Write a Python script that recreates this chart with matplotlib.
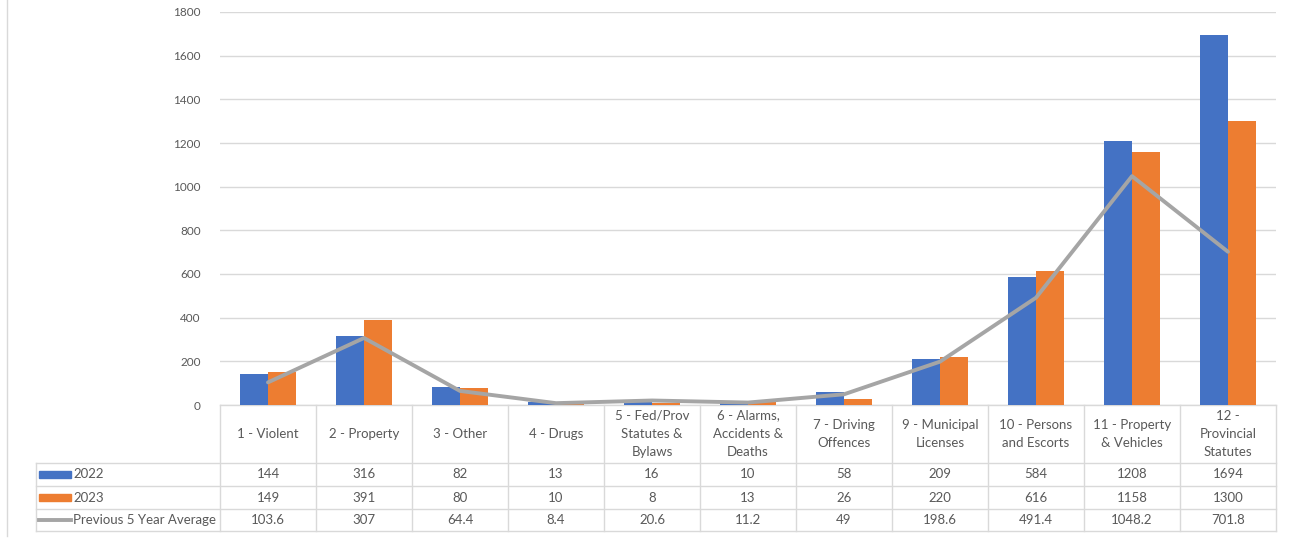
import matplotlib.pyplot as plt
import numpy as np

categories = ["1 - Violent", "2 - Property", "3 - Other", "4 - Drugs",
              "5 - Fed/Prov\nStatutes &\nBylaws", "6 - Alarms,\nAccidents &\nDeaths",
              "7 - Driving\nOffences", "9 - Municipal\nLicenses", "10 - Persons\nand Escorts",
              "11 - Property\n& Vehicles", "12 -\nProvincial\nStatutes"]
y2022 = [144, 316, 82, 13, 16, 10, 58, 209, 584, 1208, 1694]
y2023 = [149, 391, 80, 10, 8, 13, 26, 220, 616, 1158, 1300]
avg5 = [103.6, 307, 64.4, 8.4, 20.6, 11.2, 49, 198.6, 491.4, 1048.2, 701.8]
avg5_labels = ["103.6", "307", "64.4", "8.4", "20.6", "11.2", "49", "198.6", "491.4", "1048.2", "701.8"]

BLUE = "#4472C4"
ORANGE = "#ED7D31"
GREY = "#A5A5A5"
TXT = "#595959"
GRID = "#D9D9D9"
plt.rcParams['font.family'] = ['Lato', 'DejaVu Sans']

W, H = 1294, 542
fig = plt.figure(figsize=(W / 100, H / 100), dpi=100)

# pixel-space overlay for the data table
bg = fig.add_axes([0, 0, 1, 1])
bg.set_xlim(0, W)
bg.set_ylim(H, 0)
bg.axis("off")

x0, x1, ytop, ybot = 220, 1276, 12, 405
ax = fig.add_axes([x0 / W, (H - ybot) / H, (x1 - x0) / W, (ybot - ytop) / H])
n = len(categories)
x = np.arange(n)
bw = 0.29
ax.bar(x - bw / 2, y2022, bw, color=BLUE, zorder=2)
ax.bar(x + bw / 2, y2023, bw, color=ORANGE, zorder=2)
ax.plot(x, avg5, color=GREY, lw=2.8, zorder=3, solid_capstyle="round")
ax.set_xlim(-0.5, n - 0.5)
ax.set_ylim(0, 1800)
ax.set_yticks(np.arange(0, 1801, 200))
ax.set_xticks([])
ax.grid(axis="y", color=GRID, lw=1, zorder=0)
for s in ax.spines.values():
    s.set_visible(False)
ax.tick_params(axis="y", length=0, pad=14, labelsize=8.5, labelcolor=TXT)
ax.patch.set_alpha(0)

# table
LINE = "#D9D9D9"
colw = (x1 - x0) / n
rows = [405, 463, 486, 509, 531]
lx = 36
bg.plot([x0, x1], [rows[0], rows[0]], color=LINE, lw=1)
for r in rows[1:]:
    bg.plot([lx, x1], [r, r], color=LINE, lw=1)
bg.plot([lx, lx], [rows[1], rows[-1]], color=LINE, lw=1)
for i in range(n + 1):
    xe = x0 + i * colw
    bg.plot([xe, xe], [rows[0], rows[-1]], color=LINE, lw=1)

for i, c in enumerate(categories):
    cx = x0 + (i + 0.5) * colw
    bg.text(cx, (rows[0] + rows[1]) / 2, c, ha="center", va="center", fontsize=9.5,
            color=TXT, linespacing=1.65)
    for j, v in enumerate([str(y2022[i]), str(y2023[i]), avg5_labels[i]]):
        bg.text(cx, (rows[j + 1] + rows[j + 2]) / 2, v, ha="center", va="center",
                fontsize=9.5, color=TXT)

series_names = ["2022", "2023", "Previous 5 Year Average"]
for j, (name, col) in enumerate(zip(series_names, [BLUE, ORANGE, GREY])):
    cy = (rows[j + 1] + rows[j + 2]) / 2
    if j < 2:
        bg.add_patch(plt.Rectangle((39, cy - 3.5), 32, 7, color=col))
    else:
        bg.plot([39, 71], [cy, cy], color=col, lw=2.8)
    bg.text(73, cy, name, ha="left", va="center", fontsize=9.5, color=TXT)

# chart frame edge on the left
bg.plot([7, 7], [0, 536], color="#D9D9D9", lw=1)

fig.savefig("out.png", dpi=100)
